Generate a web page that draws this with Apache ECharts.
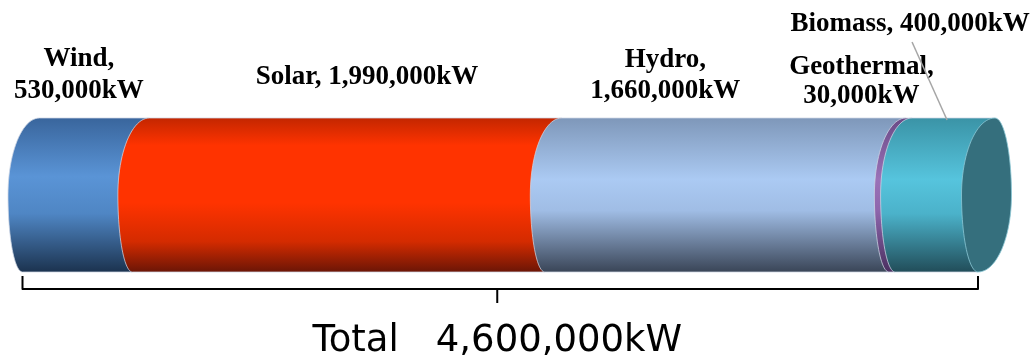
<!DOCTYPE html>
<html>
<head>
<meta charset="utf-8">
<script src="https://cdn.jsdelivr.net/npm/echarts/dist/echarts.min.js"></script>
<style>
  html, body { margin: 0; padding: 0; background: #ffffff; }
  #chart { width: 1032px; height: 359px; }
</style>
</head>
<body>
<div id="chart"></div>
<script>
// Installed renewable capacity by source (kW)
const sources = ['Wind', 'Solar', 'Hydro', 'Geothermal', 'Biomass'];
const capacityKW = [530000, 1990000, 1660000, 30000, 400000];
const totalKW = 4600000;
const totalLabel = 'Total';

// Vertical shading of each cylinder section: [offset, colour] stops
const sectionShades = [
  [[0, '#39659c'], [0.38, '#5a94d6'], [0.62, '#4f86c4'], [1, '#1b324e']],
  [[0, '#c22600'], [0.18, '#ff3300'], [0.55, '#ff3300'], [0.8, '#d42b00'], [1, '#6a1506']],
  [[0, '#7e97b9'], [0.4, '#abcaf3'], [0.6, '#a0bde5'], [1, '#394456']],
  [[0, '#6a4a86'], [0.4, '#9a72b8'], [0.6, '#8e66ac'], [1, '#4a2f60']],
  [[0, '#3a93a6'], [0.4, '#56c4dd'], [0.62, '#4bb2ca'], [1, '#214c58']]
];
const endFaceColor = '#356f7d';

// Label placement: horizontal offset from the section middle, vertical centre,
// whether name and value go on two lines, and line height
const labelLayout = [
  { dx: -7,  y: 75, wrap: true,  lh: 32 },
  { dx: 20,  y: 77, wrap: false, lh: 32 },
  { dx: -60, y: 76, wrap: true,  lh: 31 },
  { dx: -39, y: 82, wrap: true,  lh: 29 },
  { dx: -35, y: 24, wrap: false, lh: 31 }
];
// Leader line for the Biomass label: start offset/y, end offset (on the top edge)
const leader = { index: 4, dxFrom: -33, yFrom: 42, dxTo: 2 };

const RX = 23;      // how far a section boundary bulges left of its centre
const SHEAR = 8.5;  // perspective lean of the boundaries (top sits right of bottom)
const FACE_RX = 25; // half-width of the end face

const fmt = v => v.toLocaleString('en-US') + 'kW';

// cumulative extents of the stacked sections
const sections = [];
let acc = 0;
capacityKW.forEach((v, i) => { sections.push([acc, acc + v, i]); acc += v; });
const stackTotal = acc;

// Left-bulging boundary from top point (c+S) through leftmost (c-rx) to bottom point (c-S)
function leftArc(c, cy, ry, rx) {
  const pts = [];
  const n = 24;
  for (let k = 0; k <= n; k++) {           // upper quarter
    const t = -Math.PI / 2 + (Math.PI / 2) * k / n;
    pts.push([(c + SHEAR) - (rx + SHEAR) * Math.cos(t), cy + ry * Math.sin(t)]);
  }
  for (let k = 1; k <= n; k++) {           // lower quarter
    const t = (Math.PI / 2) * k / n;
    pts.push([(c - SHEAR) - (rx - SHEAR) * Math.cos(t), cy + ry * Math.sin(t)]);
  }
  return pts;
}
// Right-bulging counterpart, from bottom point back up to top point
function rightArc(c, cy, ry, rx) {
  const pts = [];
  const n = 24;
  for (let k = 0; k <= n; k++) {           // lower quarter
    const t = Math.PI / 2 - (Math.PI / 2) * k / n;
    pts.push([(c - SHEAR) + (rx + SHEAR) * Math.cos(t), cy + ry * Math.sin(t)]);
  }
  for (let k = 1; k <= n; k++) {           // upper quarter
    const t = -(Math.PI / 2) * k / n;
    pts.push([(c + SHEAR) + (rx - SHEAR) * Math.cos(t), cy + ry * Math.sin(t)]);
  }
  return pts;
}

function renderSection(params, api) {
  const i = api.value(2);
  const a = api.coord([api.value(0), 1]);
  const b = api.coord([api.value(1), 0]);
  const cL = a[0], cR = b[0];
  const top = a[1], bot = b[1];
  const cy = (top + bot) / 2, ry = (bot - top) / 2;

  const pts = leftArc(cL, cy, ry, RX);
  pts.push([cR - SHEAR, bot]);
  pts.push([cR + SHEAR, top]);

  const children = [{
    type: 'polygon',
    shape: { points: pts },
    style: {
      fill: new echarts.graphic.LinearGradient(0, 0, 0, 1,
        sectionShades[i].map(s => ({ offset: s[0], color: s[1] }))),
      stroke: 'rgba(205,214,228,0.75)',
      lineWidth: 1
    }
  }];

  if (i === capacityKW.length - 1) {
    // visible end face of the cylinder
    const face = leftArc(cR, cy, ry, FACE_RX).concat(rightArc(cR, cy, ry, FACE_RX).slice(1));
    children.push({
      type: 'polygon',
      shape: { points: face },
      style: { fill: endFaceColor, stroke: 'rgba(140,200,214,0.8)', lineWidth: 1 }
    });
  }

  const mid = (cL + cR) / 2;
  const lay = labelLayout[i];
  const text = lay.wrap ? sources[i] + ',\n' + fmt(capacityKW[i])
                        : sources[i] + ', ' + fmt(capacityKW[i]);
  children.push({
    type: 'text',
    style: {
      x: mid + lay.dx, y: lay.y, text: text,
      align: 'center', verticalAlign: 'middle',
      font: 'bold 27px "Liberation Serif", "Times New Roman", serif',
      lineHeight: lay.lh, fill: '#000000'
    },
    z2: 10
  });

  if (i === leader.index) {
    children.push({
      type: 'line',
      shape: { x1: mid + leader.dxFrom, y1: leader.yFrom, x2: mid + leader.dxTo, y2: top + 2 },
      style: { stroke: '#a6a6a6', lineWidth: 1.5 },
      z2: 20
    });
  }
  return { type: 'group', children: children };
}

function renderTotal(params, api) {
  const a = api.coord([api.value(0), 0]);
  const b = api.coord([api.value(1), 0]);
  const xL = a[0] - SHEAR, xR = b[0] - SHEAR;
  const y0 = a[1] + 4, y1 = a[1] + 17;
  const xm = (xL + xR) / 2 - 3;
  return {
    type: 'group',
    children: [
      {
        type: 'polyline',
        shape: { points: [[xL, y0], [xL, y1], [xR, y1], [xR, y0]] },
        style: { stroke: '#000000', lineWidth: 2, fill: null, lineJoin: 'round' }
      },
      {
        type: 'line',
        shape: { x1: xm, y1: y1, x2: xm, y2: y1 + 14 },
        style: { stroke: '#000000', lineWidth: 2 }
      },
      {
        type: 'text',
        style: {
          x: xm, y: 341, text: totalLabel + '\u3000' + fmt(totalKW),
          align: 'center', verticalAlign: 'middle',
          font: '37px "DejaVu Sans", Verdana, sans-serif', fill: '#000000'
        }
      }
    ]
  };
}

const chart = echarts.init(document.getElementById('chart'), null, { renderer: 'canvas' });
chart.setOption({
  animation: false,
  backgroundColor: '#ffffff',
  grid: { left: 31, right: 45.5, top: 118, bottom: 87 },
  xAxis: { type: 'value', min: 0, max: stackTotal, show: false },
  yAxis: { type: 'value', min: 0, max: 1, show: false },
  series: [
    {
      type: 'custom',
      renderItem: renderSection,
      clip: false,
      encode: { x: [0, 1] },
      data: sections
    },
    {
      type: 'custom',
      renderItem: renderTotal,
      clip: false,
      encode: { x: [0, 1] },
      data: [[0, stackTotal]]
    }
  ]
});
</script>
</body>
</html>
